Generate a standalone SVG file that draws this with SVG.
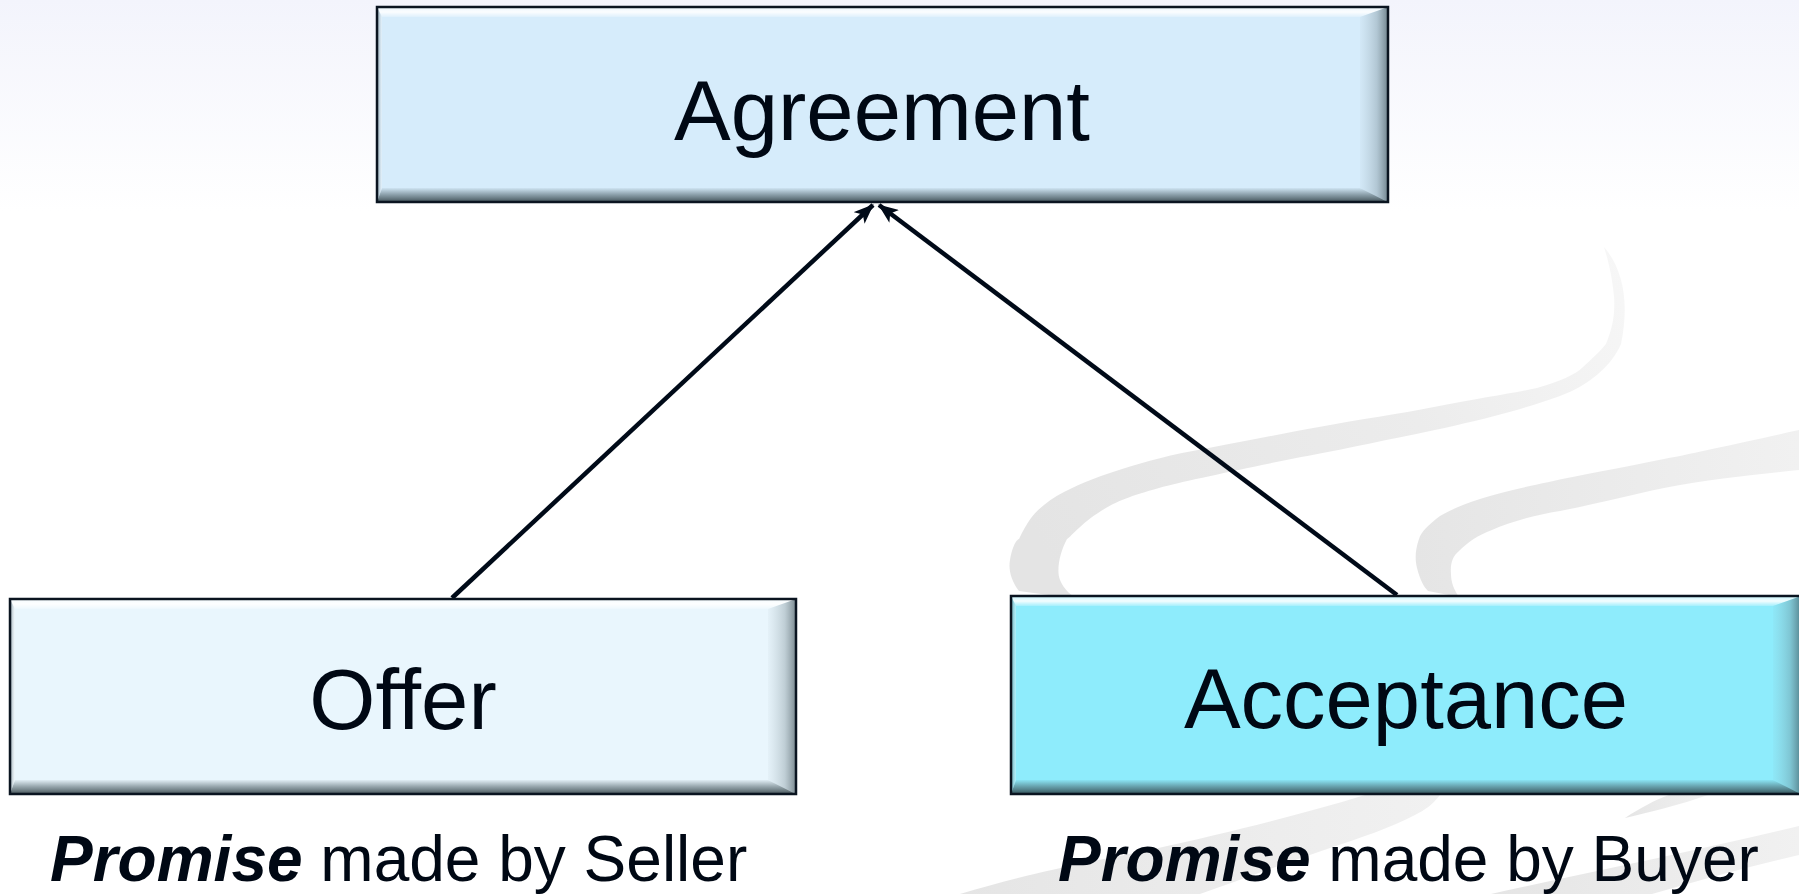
<svg xmlns="http://www.w3.org/2000/svg" width="1799" height="894" viewBox="0 0 1799 894">
<style>
.lbl{font-family:"Liberation Sans",Arial,sans-serif;font-size:85px;fill:#000814;text-anchor:middle}
.cap{font-family:"Liberation Sans",Arial,sans-serif;font-size:64px;fill:#000814}
.bi{font-weight:bold;font-style:italic}
.frame{fill:none;stroke:#0a1420;stroke-width:2.5}
.conn{stroke:#000a18;stroke-width:4.5;fill:none;marker-end:url(#arr)}
.sw{fill:url(#swg)}
</style>
<defs>
<linearGradient id="bg" x1="0" y1="0" x2="0" y2="1">
<stop offset="0" stop-color="#f3f4fc"/>
<stop offset="1" stop-color="#ffffff"/>
</linearGradient>
<linearGradient id="swg" x1="0" y1="0" x2="1" y2="0">
<stop offset="0" stop-color="#e5e5e5"/>
<stop offset="1" stop-color="#f1f1f1"/>
</linearGradient>
<linearGradient id="swg1" gradientUnits="userSpaceOnUse" x1="1050" y1="560" x2="1620" y2="250">
<stop offset="0" stop-color="#e4e4e4"/>
<stop offset="0.6" stop-color="#ececec"/>
<stop offset="1" stop-color="#f7f7f7"/>
</linearGradient>
<linearGradient id="topH" x1="0" y1="0" x2="0" y2="1">
<stop offset="0" stop-color="#ffffff" stop-opacity="0.5"/>
<stop offset="0.5" stop-color="#ffffff" stop-opacity="0.9"/>
<stop offset="1" stop-color="#ffffff" stop-opacity="0.2"/>
</linearGradient>
<linearGradient id="botD" x1="0" y1="0" x2="0" y2="1">
<stop offset="0" stop-color="#3a4c52" stop-opacity="0.05"/>
<stop offset="0.5" stop-color="#3a4c52" stop-opacity="0.5"/>
<stop offset="1" stop-color="#1e2c30" stop-opacity="0.8"/>
</linearGradient>
<linearGradient id="rightD" x1="0" y1="0" x2="1" y2="0">
<stop offset="0" stop-color="#8a9aa2" stop-opacity="0.05"/>
<stop offset="0.6" stop-color="#5d7078" stop-opacity="0.3"/>
<stop offset="1" stop-color="#2e3e44" stop-opacity="0.6"/>
</linearGradient>
<linearGradient id="leftD" x1="0" y1="0" x2="1" y2="0">
<stop offset="0" stop-color="#44555e" stop-opacity="0.5"/>
<stop offset="1" stop-color="#ffffff" stop-opacity="0.3"/>
</linearGradient>
<marker id="arr" viewBox="0 0 20 16" markerWidth="20" markerHeight="16" refX="19" refY="8" orient="auto" markerUnits="userSpaceOnUse">
<path d="M0,0 L20,8 L0,16 L5,8 z" fill="#000a18"/>
</marker>
</defs>

<rect x="0" y="0" width="1799" height="894" fill="#ffffff"/>
<rect x="0" y="0" width="1799" height="212" fill="url(#bg)"/>

<g id="swooshes">
<path fill="url(#swg1)" d="M1604,247 C1622,268 1630,300 1621,344 C1612,365 1590,385 1560,396 C1500,418 1420,433 1377,442 C1330,452 1300,457 1262,465 C1220,474 1180,482 1159,488 C1130,496 1115,502 1101,511 C1080,524 1068,540 1067,539 C1060,552 1056,570 1060,580 C1064,590 1072,596 1078,599 L1019,591 C1012,582 1008,570 1010,560 C1012,548 1016,540 1019,539 C1028,520 1035,512 1044,505 C1060,492 1080,484 1101,476 C1130,466 1150,460 1182,453 C1230,444 1280,434 1319,427 C1360,419 1400,414 1434,407 C1480,398 1515,393 1537,388 C1560,381 1575,375 1583,367 C1600,352 1606,344 1606,344 C1614,325 1615,310 1614,296 C1612,275 1608,260 1604,247 Z"/>
<path class="sw" d="M1799,430 C1740,443 1700,452 1664,459 C1620,468 1580,475 1549,482 C1520,488 1498,493 1480,499 C1462,505 1450,510 1440,516 C1428,525 1421,532 1419,539 C1415,550 1415,560 1417,568 C1420,580 1424,587 1428,591 L1459,597 C1454,590 1451,582 1451,574 C1450,563 1453,556 1459,551 C1468,542 1478,535 1492,530 C1510,522 1535,515 1560,511 C1600,503 1630,495 1664,488 C1710,479 1760,474 1799,470 Z"/>
<path class="sw" d="M1365,795 L1440,795 C1432,805 1425,810 1415,815 C1390,828 1360,838 1330,848 C1280,865 1240,880 1200,894 L960,894 C1040,870 1100,860 1150,850 C1230,832 1300,815 1365,795 Z"/>
<path class="sw" d="M1669,795 L1708,795 C1680,805 1650,812 1625,818 C1640,808 1655,800 1669,795 Z"/>
<path class="sw" d="M1799,826 C1700,850 1600,870 1491,894 L1652,894 C1700,880 1750,866 1799,855 Z"/>
</g>

<g id="connectors">
<line class="conn" x1="452" y1="598" x2="873" y2="205"/>
<line class="conn" x1="1397" y1="595" x2="879" y2="205"/>
</g>

<g id="node-agreement">
<rect x="377" y="7" width="1011" height="195" fill="#d6ecfb"/>
<polygon points="377,7 1388,7 1360,17 382,17" fill="url(#topH)"/>
<polygon points="377,202 1388,202 1360,188 382,188" fill="url(#botD)"/>
<polygon points="1388,7 1388,202 1360,188 1360,17" fill="url(#rightD)"/>
<polygon points="377,7 382,17 382,188 377,202" fill="url(#leftD)"/>
<rect class="frame" x="377" y="7" width="1011" height="195"/>
<text class="lbl" x="882" y="140">Agreement</text>
</g>

<g id="node-offer">
<rect x="10" y="599" width="786" height="195" fill="#e9f6fd"/>
<polygon points="10,599 796,599 768,609 15,609" fill="url(#topH)"/>
<polygon points="10,794 796,794 768,780 15,780" fill="url(#botD)"/>
<polygon points="796,599 796,794 768,780 768,609" fill="url(#rightD)"/>
<polygon points="10,599 15,609 15,780 10,794" fill="url(#leftD)"/>
<rect class="frame" x="10" y="599" width="786" height="195"/>
<text class="lbl" x="403" y="729">Offer</text>
</g>

<g id="node-acceptance">
<rect x="1011" y="596" width="790" height="198" fill="#8eecfc"/>
<polygon points="1011,596 1801,596 1773,606 1016,606" fill="url(#topH)"/>
<polygon points="1011,794 1801,794 1773,780 1016,780" fill="url(#botD)"/>
<polygon points="1801,596 1801,794 1773,780 1773,606" fill="url(#rightD)"/>
<polygon points="1011,596 1016,606 1016,780 1011,794" fill="url(#leftD)"/>
<rect class="frame" x="1011" y="596" width="790" height="198"/>
<text class="lbl" x="1406" y="728">Acceptance</text>
</g>

<g id="caption-seller">
<text class="cap" x="50" y="881"><tspan class="bi">Promise</tspan> made by Seller</text>
</g>
<g id="caption-buyer">
<text class="cap" x="1058" y="881"><tspan class="bi">Promise</tspan> made by Buyer</text>
</g>
</svg>
